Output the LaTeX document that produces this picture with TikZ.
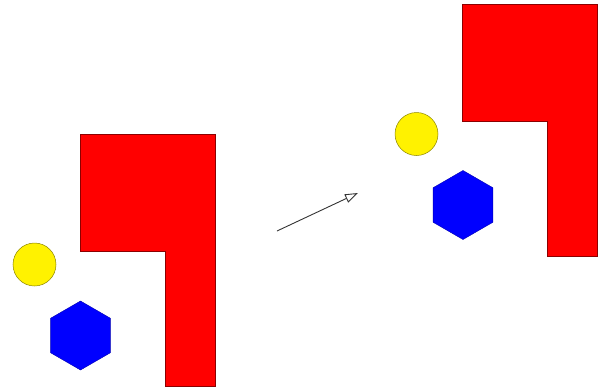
\documentclass[tikz,border=0pt]{standalone}
\usetikzlibrary{arrows.meta,shapes.geometric}
\begin{document}
\begin{tikzpicture}[x=1pt, y=-1pt,
    block/.style={fill=red, draw=red!55!black, line width=0.4pt},
    ball/.style={circle, fill=yellow, draw=olive, line width=0.5pt, minimum size=43pt, inner sep=0pt},
    hexa/.style={regular polygon, regular polygon sides=6, shape border rotate=30,
      fill=blue, draw=blue!70!black, line width=0.4pt, minimum size=69pt, inner sep=0pt}]

\useasboundingbox (0,0) rectangle (598,389);

% Scene before the move
\draw[block] (80,134) -- (215.5,134) -- (215.5,386) -- (165,386) -- (165,251) -- (80,251) -- cycle;
\node[ball] (ballA) at (34.5,264.5) {};
\node[hexa] (hexA) at (80.5,335.5) {};

% Scene after the move (same shapes, shifted up and right)
\draw[block] (462.5,4) -- (597,4) -- (597,256) -- (547.5,256) -- (547.5,121) -- (462.5,121) -- cycle;
\node[ball] (ballB) at (416.5,134) {};
\node[hexa] (hexB) at (463,205) {};

% The move
\coordinate (from) at (277,231);
\coordinate (to) at (358,193);
\draw[-{Triangle[open, length=13pt, width=9pt]}, line width=0.9pt, black!80] (from) -- (to);

\end{tikzpicture}
\end{document}
